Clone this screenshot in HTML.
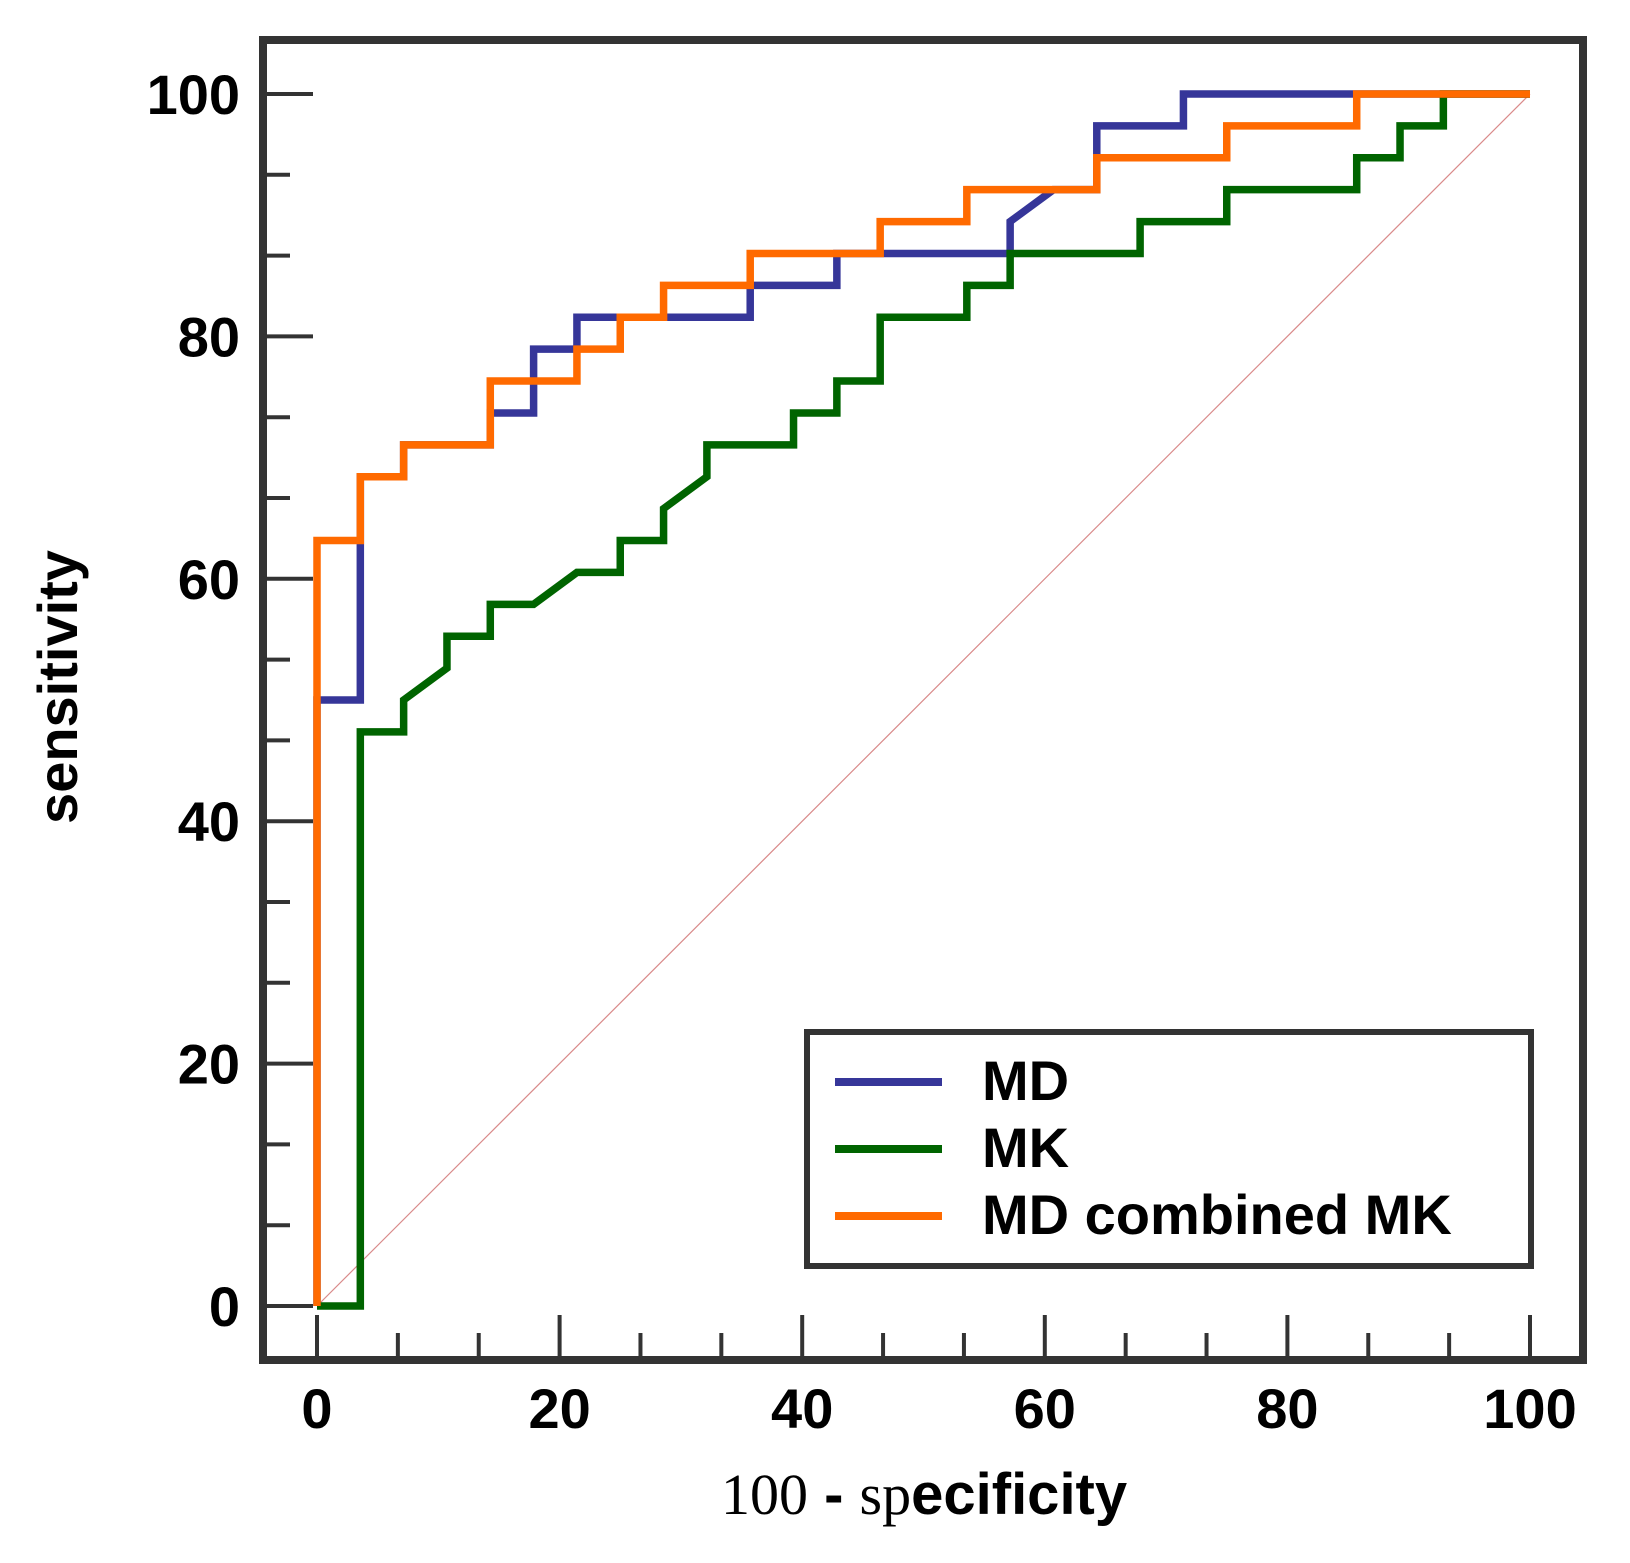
<!DOCTYPE html>
<html><head><meta charset="utf-8"><style>
body{margin:0;background:#fff;}
svg{display:block;}
text{font-family:"Liberation Sans",sans-serif;}
</style></head><body>
<svg id="chart" width="1630" height="1563" viewBox="0 0 1630 1563" xmlns="http://www.w3.org/2000/svg">
<g id="grid"></g>
<g id="series"></g>
<rect x="263" y="40" width="1320" height="1320" fill="none" stroke="#333" stroke-width="8"/>
<g id="axes"></g>
<g>
<rect x="807" y="1032" width="724" height="234" fill="#fff" stroke="#333" stroke-width="6"/>
<line x1="835" y1="1082" x2="942" y2="1082" stroke="#363699" stroke-width="8"/>
<text x="982" y="1100" font-size="56" font-weight="bold">MD</text>
<line x1="835" y1="1149" x2="942" y2="1149" stroke="#006400" stroke-width="8"/>
<text x="982" y="1167" font-size="56" font-weight="bold">MK</text>
<line x1="835" y1="1216" x2="942" y2="1216" stroke="#ff6a00" stroke-width="8"/>
<text x="982" y="1234" font-size="56" font-weight="bold">MD combined MK</text>
</g>
<text x="721" y="1514" font-size="58"><tspan font-family="Liberation Serif,serif">100</tspan><tspan font-weight="bold"> - </tspan><tspan font-family="Liberation Serif,serif">sp</tspan><tspan font-weight="bold">ecificity</tspan></text>
<text transform="translate(77,687) rotate(-90)" text-anchor="middle" font-size="56" font-weight="bold">sensitivity</text>
</svg>
<script>
// ROC data: x = false positives (of 28 negatives), y = true positives (of 38 positives)
const NNEG = 28, NPOS = 38;
const mdX = [0,0,1,1,2,2,4,4,5,5,6,6,10,10,12,12,16,16,17,18,18,20,20,28];
const mdY = [0,19,19,26,26,27,27,28,28,30,30,31,31,32,32,33,33,34,35,35,37,37,38,38];
const mkX = [0,1,1,2,2,3,3,4,4,5,6,7,7,8,8,9,9,11,11,12,12,13,13,15,15,16,16,19,19,21,21,24,24,25,25,26,26,28];
const mkY = [0,0,18,18,19,20,21,21,22,22,23,23,24,24,25,26,27,27,28,28,29,29,31,31,32,32,33,33,34,34,35,35,36,36,37,37,38,38];
const cbX = [0,0,1,1,2,2,4,4,6,6,7,7,8,8,10,10,13,13,15,15,18,18,21,21,24,24,28];
const cbY = [0,24,24,26,26,27,27,29,29,30,30,31,31,32,32,33,33,34,34,35,35,36,36,37,37,38,38];
const xTicks = [0,20,40,60,80,100];
const yTicks = [0,20,40,60,80,100];

const X0=317, X1=1530, Y0=1306, Y1=94;
const sx = v => X0 + (X1-X0)*v/100;
const sy = v => Y0 - (Y0-Y1)*v/100;
const NS="http://www.w3.org/2000/svg";
function mk(tag, attrs, parent){const e=document.createElementNS(NS,tag);for(const k in attrs)e.setAttribute(k,attrs[k]);parent.appendChild(e);return e;}
const axes=document.getElementById('axes'), series=document.getElementById('series');

const diag = mk('line',{x1:sx(0),y1:sy(0),x2:sx(100),y2:sy(100),stroke:'#d98a8a','stroke-width':1.2},series);



function drawSeries(xs, ys, color, name){
  const pts = xs.map((x,i)=>sx(x/NNEG*100)+','+sy(ys[i]/NPOS*100)).join(' ');
  const p = mk('polyline',{points:pts,fill:'none',stroke:color,'stroke-width':7.5,'stroke-linejoin':'miter'},series);
  
  
}
drawSeries(mdX, mdY, '#363699', 'md-curve');
drawSeries(mkX, mkY, '#006400', 'mk-curve');
drawSeries(cbX, cbY, '#ff6a00', 'combined-curve');

for(let i=0;i<=15;i++){
  const v=i*20/3; const major = i%3===0;
  const ty = mk('line',{x1:263,y1:sy(v),x2:major?313:290,y2:sy(v),stroke:'#333','stroke-width':4},axes);
  
  
  const tx = mk('line',{x1:sx(v),y1:1360,x2:sx(v),y2:major?1315:1333,stroke:'#333','stroke-width':4},axes);
  
  
}
xTicks.forEach(v=>{
  const t=mk('text',{x:sx(v),y:1428,'text-anchor':'middle','font-size':56,'font-weight':'bold'},axes);
  t.textContent=v;
  
  
});
yTicks.forEach(v=>{
  const t=mk('text',{x:240,y:sy(v)+20,'text-anchor':'end','font-size':56,'font-weight':'bold'},axes);
  t.textContent=v;
  
  
});
</script>
</body></html>
